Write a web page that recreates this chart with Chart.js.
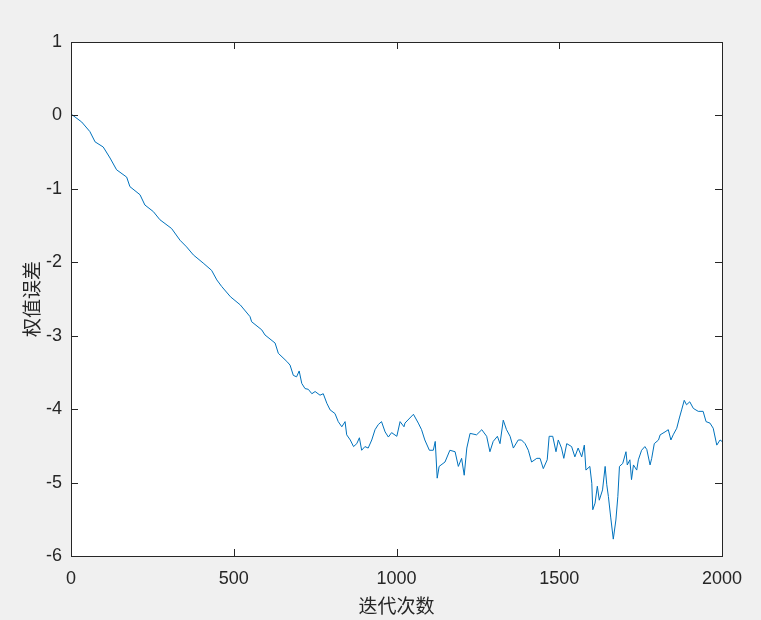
<!DOCTYPE html>
<html>
<head>
<meta charset="utf-8">
<script src="https://cdn.jsdelivr.net/npm/chart.js@4.4.1/dist/chart.umd.min.js"></script>
<style>
  html, body { margin: 0; padding: 0; background: #f0f0f0; }
  #wrap { width: 761px; height: 620px; }
</style>
</head>
<body>
<div id="wrap"><canvas id="errChart" width="761" height="620"></canvas></div>
<script>
// iteration index and weight error
const iterations = [
  0, 15, 33, 58, 74, 99, 120, 140, 171, 181, 212, 227, 253, 273, 309, 335, 355, 376, 406, 432,
  448, 463, 490, 520, 550, 555, 586, 596, 627, 637, 663, 673, 683, 693, 701, 709, 719, 729, 740, 750,
  765, 775, 786, 796, 811, 821, 832, 842, 847, 858, 868, 878, 886, 893, 903, 913, 924, 934, 944, 954,
  965, 975, 985, 1001, 1011, 1023, 1026, 1052, 1067, 1077, 1087, 1101, 1113, 1119, 1125, 1131, 1149, 1164, 1180, 1190,
  1200, 1208, 1216, 1226, 1246, 1262, 1277, 1287, 1297, 1310, 1318, 1328, 1338, 1349, 1359, 1374, 1384, 1395, 1405, 1415,
  1431, 1441, 1451, 1463, 1469, 1480, 1490, 1497, 1507, 1514, 1523, 1538, 1548, 1558, 1569, 1577, 1582, 1594, 1600, 1603,
  1610, 1617, 1623, 1633, 1641, 1646, 1651, 1658, 1666, 1674, 1680, 1685, 1695, 1705, 1709, 1717, 1722, 1728, 1738, 1743,
  1753, 1763, 1769, 1779, 1784, 1792, 1805, 1810, 1825, 1835, 1843, 1850, 1861, 1869, 1876, 1884, 1891, 1901, 1912, 1927,
  1942, 1951, 1963, 1973, 1984, 1994, 2000
];
const weightError = [
  0.02, -0.03, -0.09, -0.22, -0.36, -0.43, -0.58, -0.74, -0.84, -0.97, -1.08, -1.22, -1.31, -1.42, -1.54, -1.70, -1.79, -1.90, -2.01, -2.11,
  -2.24, -2.33, -2.47, -2.58, -2.74, -2.81, -2.92, -2.99, -3.10, -3.24, -3.35, -3.40, -3.54, -3.56, -3.48, -3.65, -3.72, -3.73, -3.79, -3.76,
  -3.81, -3.79, -3.92, -4.01, -4.06, -4.17, -4.24, -4.17, -4.35, -4.42, -4.51, -4.47, -4.39, -4.56, -4.51, -4.53, -4.42, -4.28, -4.21, -4.17,
  -4.31, -4.38, -4.32, -4.37, -4.17, -4.24, -4.19, -4.07, -4.19, -4.28, -4.42, -4.56, -4.56, -4.44, -4.94, -4.78, -4.72, -4.56, -4.58, -4.78,
  -4.67, -4.90, -4.53, -4.33, -4.35, -4.28, -4.37, -4.58, -4.44, -4.37, -4.47, -4.15, -4.28, -4.37, -4.53, -4.42, -4.42, -4.47, -4.56, -4.72,
  -4.67, -4.67, -4.81, -4.69, -4.37, -4.37, -4.58, -4.42, -4.53, -4.67, -4.47, -4.51, -4.65, -4.53, -4.65, -4.49, -4.83, -4.78, -5.01, -5.37,
  -5.28, -5.05, -5.24, -5.10, -4.78, -5.03, -5.19, -5.47, -5.77, -5.51, -5.19, -4.78, -4.74, -4.58, -4.76, -4.69, -4.96, -4.76, -4.83, -4.69,
  -4.56, -4.51, -4.55, -4.76, -4.67, -4.47, -4.42, -4.35, -4.31, -4.28, -4.42, -4.35, -4.26, -4.12, -4.01, -3.88, -3.94, -3.90, -3.99, -4.03,
  -4.03, -4.17, -4.19, -4.26, -4.49, -4.42, -4.44
];
const xTicks = [0, 500, 1000, 1500, 2000];
const yTicks = [1, 0, -1, -2, -3, -4, -5, -6];
const xTitle = '迭代次数';
const yTitle = '权值误差';

const axisColor = '#262626';
const tickFont = { family: '"Liberation Sans", Arial, sans-serif', size: 18 };
const cjkFont = { family: '"Noto Sans CJK SC", sans-serif', size: 19 };

// white plot box + matlab style inward ticks on all four sides
const boxPlugin = {
  id: 'box',
  beforeDraw(chart) {
    const { ctx, chartArea: a } = chart;
    ctx.save();
    ctx.fillStyle = '#ffffff';
    ctx.fillRect(a.left, a.top, a.right - a.left, a.bottom - a.top);
    ctx.restore();
  },
  afterDraw(chart) {
    const { ctx, chartArea: a, scales } = chart;
    const len = 7;
    ctx.save();
    ctx.strokeStyle = axisColor;
    ctx.lineWidth = 1;
    ctx.beginPath();
    xTicks.forEach(v => {
      const px = Math.round(scales.x.getPixelForValue(v)) + 0.5;
      ctx.moveTo(px, a.bottom); ctx.lineTo(px, a.bottom - len);
      ctx.moveTo(px, a.top); ctx.lineTo(px, a.top + len);
    });
    yTicks.forEach(v => {
      const py = Math.round(scales.y.getPixelForValue(v)) + 0.5;
      ctx.moveTo(a.left, py); ctx.lineTo(a.left + len, py);
      ctx.moveTo(a.right, py); ctx.lineTo(a.right - len, py);
    });
    ctx.stroke();
    ctx.strokeRect(Math.round(a.left) + 0.5, Math.round(a.top) + 0.5,
      Math.round(a.right - a.left), Math.round(a.bottom - a.top));
    ctx.restore();
  }
};

new Chart(document.getElementById('errChart'), {
  type: 'line',
  data: {
    datasets: [{
      data: iterations.map((x, i) => ({ x, y: weightError[i] })),
      borderColor: '#0072BD',
      borderWidth: 1,
      pointRadius: 0,
      tension: 0,
      fill: false
    }]
  },
  options: {
    responsive: false,
    animation: false,
    events: [],
    layout: { padding: { left: 0, top: 42, right: 39, bottom: 0 } },
    plugins: { legend: { display: false }, tooltip: { enabled: false } },
    scales: {
      x: {
        type: 'linear',
        min: 0,
        max: 2000,
        afterFit: s => { s.height = 64; },
        afterBuildTicks: s => { s.ticks = xTicks.map(value => ({ value })); },
        grid: { display: false, drawTicks: false },
        border: { display: false },
        ticks: { color: axisColor, font: tickFont, padding: 12, maxRotation: 0, callback: v => String(v) },
        title: { display: true, text: xTitle, color: axisColor, font: cjkFont, padding: { top: 0, bottom: 3 } }
      },
      y: {
        min: -6,
        max: 1,
        afterFit: s => { s.width = 71; },
        afterBuildTicks: s => { s.ticks = yTicks.map(value => ({ value })); },
        grid: { display: false, drawTicks: false },
        border: { display: false },
        ticks: { color: axisColor, font: tickFont, padding: 9, callback: v => String(v) },
        title: { display: true, text: yTitle, color: axisColor, font: cjkFont, padding: { top: 20, bottom: 0 } }
      }
    }
  },
  plugins: [boxPlugin]
});
</script>
</body>
</html>
